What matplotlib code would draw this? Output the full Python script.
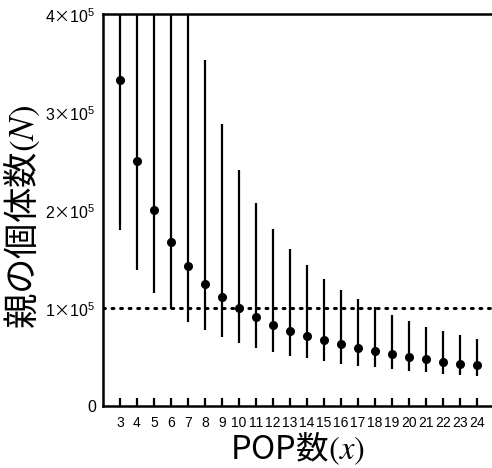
"""
    Parent population estimate vs number of POPs
"""

import matplotlib
matplotlib.use('Agg')
import matplotlib.pyplot as plt

plt.rcParams['font.family'] = ['Liberation Sans', 'Noto Sans CJK JP']
plt.rcParams['mathtext.fontset'] = 'custom'
plt.rcParams['mathtext.rm'] = 'STIXGeneral'
plt.rcParams['mathtext.it'] = 'STIXGeneral:italic'
plt.rcParams['mathtext.bf'] = 'STIXGeneral:bold'
plt.rcParams['mathtext.sf'] = 'Noto Sans CJK JP'

# ============================================================
# Data
# ============================================================

pop_count = [3, 4, 5, 6, 7, 8, 9, 10, 11, 12, 13, 14, 15, 16, 17, 18, 19, 20, 21, 22, 23, 24]

estimate = [333000, 250000, 200000, 167000, 143000, 125000, 111000, 100000,
            91000, 83000, 77000, 71000, 67000, 63000, 59000, 56000,
            53000, 50000, 48000, 45000, 43000, 42000]

lower = [180000, 139000, 115000, 99000, 86000, 78000, 70000, 64000,
         59500, 55000, 51000, 49000, 46000, 43000, 41000, 39500,
         38000, 36000, 35000, 33000, 32000, 31000]

upper = [960000, 720000, 580000, 480000, 410000, 353000, 288000, 241000,
         207000, 181000, 160000, 144000, 130000, 118000, 109000, 101000,
         93000, 87000, 81000, 76500, 72000, 68000]

ref_level = 100000

y_ticks = [0, 100000, 200000, 300000, 400000]
y_tick_labels = ['0',
                 '1$\\mathsf{×}$10$^{\\mathregular{5}}$',
                 '2$\\mathsf{×}$10$^{\\mathregular{5}}$',
                 '3$\\mathsf{×}$10$^{\\mathregular{5}}$',
                 '4$\\mathsf{×}$10$^{\\mathregular{5}}$']

# labels: CJK font first so the mathtext default font has the kanji
LABEL_FONT = ['Noto Sans CJK JP']


def main() -> None:
    fig = plt.figure(figsize=(4.92, 4.68), dpi=100)
    ax = fig.add_axes([0.2093, 0.1325, 0.7907, 0.8375])

    # confidence intervals
    ax.vlines(pop_count, lower, upper, color='black', linewidth=1.6, zorder=2)
    ax.plot(pop_count, estimate, 'o', color='black', markersize=5.5, zorder=3)

    ax.axhline(ref_level, color='black', linestyle=(0, (0.6, 2.2)),
               linewidth=2.2, dash_capstyle='round', zorder=1)

    ax.set_xlim(2, 24.9)
    ax.set_ylim(0, 400000)

    ax.set_xticks(pop_count)
    ax.set_xticklabels([str(v) for v in pop_count])
    ax.set_yticks(y_ticks)
    ax.set_yticklabels(y_tick_labels)

    ax.tick_params(axis='x', direction='in', length=6, width=1.6,
                   labelsize=10, pad=7)
    ax.tick_params(axis='y', direction='in', length=0, width=1.6,
                   labelsize=11.5, pad=5)

    for side in ['left', 'bottom', 'top']:
        ax.spines[side].set_linewidth(1.8)
    ax.spines['right'].set_visible(False)

    ax.set_xlabel('POP数$(x)$', fontsize=23.5, family=LABEL_FONT, labelpad=0)
    ax.set_ylabel('親の個体数$(N)$', fontsize=25.5, family=LABEL_FONT)
    ax.yaxis.set_label_coords(-0.158, 0.482)

    fig.savefig('out.png', dpi=100)
    plt.close(fig)


if __name__ == '__main__':
    main()
